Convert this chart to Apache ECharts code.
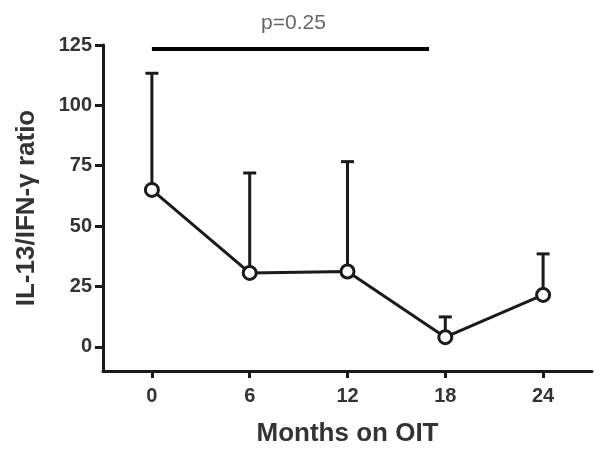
<!DOCTYPE html>
<html>
<head>
<meta charset="utf-8">
<script src="https://cdn.jsdelivr.net/npm/echarts@6/dist/echarts.min.js"></script>
<style>
html,body{margin:0;padding:0;background:#fff;}
#c{width:600px;height:452px;}
</style>
</head>
<body>
<div id="c"></div>
<script>
// ---- data ----
var months = [0, 6, 12, 18, 24];
var means = [65, 30.6, 31.2, 4, 21.5];
var upperErr = [113.3, 72, 76.7, 12.4, 38.5];
var xTicks = [0, 6, 12, 18, 24];
var yTicks = [0, 25, 50, 75, 100, 125];
var sigFrom = 0;
var sigTo = 17;
var sigLevel = 123.3;
var sigText = 'p=0.25';

var FONT = '"Liberation Sans", Arial, sans-serif';
var INK = '#1a1a1a';

var lineData = months.map(function (m, i) { return [m, means[i]]; });
var errData = months.map(function (m, i) { return [m, means[i], upperErr[i]]; });

var chart = echarts.init(document.getElementById('c'), null, {renderer: 'canvas'});
chart.setOption({
  animation: false,
  backgroundColor: '#fff',
  grid: {left: 103, right: 8, top: 45, bottom: 81, containLabel: false},
  xAxis: {
    type: 'value', min: -3, max: 27,
    name: 'Months on OIT', nameLocation: 'middle', nameGap: 50,
    nameTextStyle: {fontFamily: FONT, fontWeight: 'bold', fontSize: 26, color: '#333'},
    axisLine: {show: true, onZero: false, lineStyle: {color: INK, width: 3}},
    axisTick: {show: true, inside: false, customValues: xTicks, length: 7, lineStyle: {color: INK, width: 3}},
    axisLabel: {customValues: xTicks, margin: 15, fontFamily: FONT, fontWeight: 'bold', fontSize: 20, color: '#333'},
    splitLine: {show: false}
  },
  yAxis: {
    type: 'value', min: -10, max: 125,
    name: 'IL-13/IFN-\u03b3 ratio', nameLocation: 'middle', nameGap: 63, nameRotate: 90,
    nameTextStyle: {fontFamily: FONT, fontWeight: 'bold', fontSize: 26, color: '#333'},
    axisLine: {show: true, onZero: false, lineStyle: {color: INK, width: 3}},
    axisTick: {show: true, inside: false, customValues: yTicks, length: 8, lineStyle: {color: INK, width: 3}},
    axisLabel: {customValues: yTicks, margin: 11, fontFamily: FONT, fontWeight: 'bold', fontSize: 20, color: '#333'},
    splitLine: {show: false}
  },
  series: [
    {
      type: 'custom',
      z: 1,
      data: errData,
      renderItem: function (params, api) {
        var x = api.value(0);
        var p0 = api.coord([x, api.value(1)]);
        var p1 = api.coord([x, api.value(2)]);
        var cap = 6.5;
        var st = {stroke: INK, lineWidth: 3};
        return {
          type: 'group',
          children: [
            {type: 'line', shape: {x1: p0[0], y1: p0[1], x2: p1[0], y2: p1[1]}, style: st},
            {type: 'line', shape: {x1: p1[0] - cap, y1: p1[1], x2: p1[0] + cap, y2: p1[1]}, style: st}
          ]
        };
      }
    },
    {
      type: 'line',
      z: 3,
      data: lineData,
      symbol: 'circle',
      symbolSize: 13,
      itemStyle: {color: '#fff', borderColor: INK, borderWidth: 3},
      lineStyle: {color: INK, width: 3}
    },
    {
      type: 'custom',
      z: 2,
      data: [[sigFrom, sigTo, sigLevel]],
      renderItem: function (params, api) {
        var a = api.coord([api.value(0), api.value(2)]);
        var b = api.coord([api.value(1), api.value(2)]);
        return {
          type: 'group',
          children: [
            {type: 'line', shape: {x1: a[0], y1: a[1], x2: b[0], y2: b[1]}, style: {stroke: '#000', lineWidth: 4}},
            {type: 'text', x: (a[0] + b[0]) / 2 + 3, y: a[1] - 15,
              style: {text: sigText, fill: '#666', fontFamily: FONT, fontSize: 21, align: 'center', verticalAlign: 'bottom'}}
          ]
        };
      }
    }
  ]
});
</script>
</body>
</html>
